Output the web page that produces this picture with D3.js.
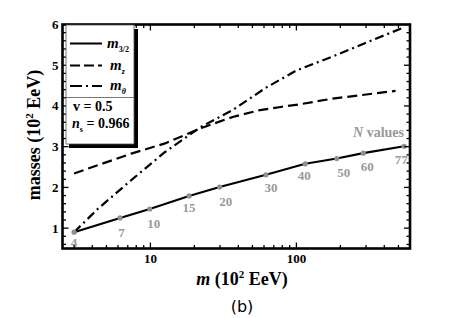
<!DOCTYPE html>
<html><head><meta charset="utf-8">
<script src="https://cdn.jsdelivr.net/npm/d3@7/dist/d3.min.js"></script>
<style>body{margin:0;background:#fff}svg{display:block}</style>
</head><body>
<svg id="c" width="457" height="318"></svg>
<script>
// ---- data ----
const nLabels = ["4","7","10","15","20","30","40","50","60","77"];
const m32_m = [3.0, 6.2, 9.9, 18.4, 29.8, 61.9, 115, 189, 287, 547];
const m32_v = [0.9, 1.25, 1.47, 1.79, 2.01, 2.31, 2.58, 2.71, 2.84, 3.01];
const mz_m = [3, 4.4, 7.4, 12.6, 22.4, 36.6, 55, 80, 105, 177, 478];
const mz_v = [2.34, 2.55, 2.83, 3.08, 3.46, 3.73, 3.89, 3.98, 4.04, 4.18, 4.37];
const mth_m = [3, 4.4, 7.4, 12.6, 22.3, 36.6, 62, 100, 197, 333, 547];
const mth_v = [0.9, 1.485, 2.18, 2.87, 3.49, 3.9, 4.45, 4.87, 5.28, 5.62, 5.93];
const xMajor = [10, 100];
const xTickLabels = ["10", "100"];
const xMinor = [3,4,5,6,7,8,9,20,30,40,50,60,70,80,90,200,300,400,500,600];
const yMajor = [1,2,3,4,5,6];
const yTickLabels = ["1","2","3","4","5","6"];
const yMinor = d3.range(0.6, 6.0, 0.2).filter(v => Math.abs(v - Math.round(v)) > 0.05);
const legendNames = [["m","3/2"],["m","z"],["m","θ"]];

// ---- layout ----
const L = 62.5, R = 410, T = 24.5, B = 248.5;
const x = d3.scaleLog().domain([2.5, 600]).range([L, R]);
const y = d3.scaleLinear().domain([0.5, 6]).range([B, T]);
const svg = d3.select("#c");
const serif = "'Liberation Serif', 'Times New Roman', serif";

const line = d3.line().x(d => x(d[0])).y(d => y(d[1]));
const s32 = m32_m.map((m,i)=>[m, m32_v[i]]);
const sz = mz_m.map((m,i)=>[m, mz_v[i]]);
const sth = mth_m.map((m,i)=>[m, mth_v[i]]);

svg.append("path").attr("d", line(sz)).attr("fill","none").attr("stroke","#000")
  .attr("stroke-width",2.2).attr("stroke-dasharray","10,5");
svg.append("path").attr("d", line(sth)).attr("fill","none").attr("stroke","#000")
  .attr("stroke-width",2.2).attr("stroke-dasharray","9,4,2,4");
svg.append("path").attr("d", line(s32)).attr("fill","none").attr("stroke","#000")
  .attr("stroke-width",2.2);
svg.selectAll("circle.pt").data(s32).enter().append("circle")
  .attr("cx", d=>x(d[0])).attr("cy", d=>y(d[1])).attr("r",2.6).attr("fill","#8f8f8f");

const offs = [[0,15],[1.5,19],[4,19],[0,16],[6,19],[5,17],[-1,16],[7,19],[4,18],[-3,18]];
svg.selectAll("text.nl").data(s32).enter().append("text")
  .attr("x",(d,i)=>x(d[0])+offs[i][0]).attr("y",(d,i)=>y(d[1])+offs[i][1])
  .attr("text-anchor","middle").attr("font-family",serif).attr("font-weight","bold")
  .attr("font-size",13).attr("fill","#999").text((d,i)=>nLabels[i]);

const nv = svg.append("text").attr("x",404).attr("y",136.5).attr("text-anchor","end")
  .attr("font-family",serif).attr("font-weight","bold").attr("font-size",14).attr("fill","#999");
nv.append("tspan").attr("font-style","italic").text("N");
nv.append("tspan").text(" values");

// ---- ticks ----
const tk = svg.append("g").attr("stroke","#000").attr("stroke-width",1.3);
function vt(vals, len){
  vals.forEach(v=>{
    const px = x(v);
    tk.append("line").attr("x1",px).attr("x2",px).attr("y1",B).attr("y2",B-len);
    tk.append("line").attr("x1",px).attr("x2",px).attr("y1",T).attr("y2",T+len);
  });
}
function ht(vals, len){
  vals.forEach(v=>{
    const py = y(v);
    tk.append("line").attr("y1",py).attr("y2",py).attr("x1",L).attr("x2",L+len);
    tk.append("line").attr("y1",py).attr("y2",py).attr("x1",R).attr("x2",R-len);
  });
}
vt(xMajor, 6); vt(xMinor, 3.5); ht(yMajor, 6); ht(yMinor, 3.5);

svg.append("rect").attr("x",L).attr("y",T).attr("width",R-L).attr("height",B-T)
  .attr("fill","none").attr("stroke","#000").attr("stroke-width",2.6);

svg.selectAll("text.xt").data(xMajor).enter().append("text")
  .attr("x",d=>x(d)).attr("y",263).attr("text-anchor","middle")
  .attr("font-family",serif).attr("font-weight","bold").attr("font-size",13)
  .text((d,i)=>xTickLabels[i]);
svg.selectAll("text.yt").data(yMajor).enter().append("text")
  .attr("x",58.5).attr("y",d=>y(d)+4.5).attr("text-anchor","end")
  .attr("font-family",serif).attr("font-weight","bold").attr("font-size",13)
  .text((d,i)=>yTickLabels[i]);

// ---- axis titles ----
const xt = svg.append("text").attr("x",242).attr("y",285).attr("text-anchor","middle")
  .attr("font-family",serif).attr("font-weight","bold").attr("font-size",18);
xt.append("tspan").attr("font-style","italic").text("m");
xt.append("tspan").text(" (10");
xt.append("tspan").attr("font-size",11).attr("dy",-7).text("2");
xt.append("tspan").attr("dy",7).text(" EeV)");

const yt = svg.append("text").attr("transform","translate(40,135) rotate(-90)")
  .attr("text-anchor","middle").attr("font-family",serif).attr("font-weight","bold").attr("font-size",18);
yt.append("tspan").text("masses (10");
yt.append("tspan").attr("font-size",11).attr("dy",-7).text("2");
yt.append("tspan").attr("dy",7).text(" EeV)");

svg.append("text").attr("x",242).attr("y",312).attr("text-anchor","middle")
  .attr("font-family","'DejaVu Sans', sans-serif").attr("font-size",16).text("(b)");

// ---- legend ----
const lg = svg.append("g");
lg.append("rect").attr("x",134).attr("y",29).attr("width",4).attr("height",119).attr("fill","#000");
lg.append("rect").attr("x",69).attr("y",144).attr("width",69).attr("height",4).attr("fill","#000");
lg.append("rect").attr("x",66).attr("y",25).attr("width",68).attr("height",119)
  .attr("fill","#fff").attr("stroke","#555").attr("stroke-width",0.8);
lg.append("line").attr("x1",66).attr("x2",134).attr("y1",97.5).attr("y2",97.5)
  .attr("stroke","#555").attr("stroke-width",0.8);
const dashes = [null, "10,4", "12,4,2,4"];
const ly = [43.5, 65.5, 86];
legendNames.forEach((nm,i)=>{
  const l = lg.append("line").attr("x1",70).attr("x2",102).attr("y1",ly[i]).attr("y2",ly[i])
    .attr("stroke","#000").attr("stroke-width",2);
  if (dashes[i]) l.attr("stroke-dasharray",dashes[i]);
  const t = lg.append("text").attr("x", i===0?107:110).attr("y",ly[i]+4)
    .attr("font-family",serif).attr("font-weight","bold").attr("font-size",15);
  t.append("tspan").attr("font-style","italic").text(nm[0]);
  t.append("tspan").attr("font-size",8).attr("dy",4).attr("font-style", i===0?"normal":"italic").text(nm[1]);
});
lg.append("text").attr("x",73).attr("y",111).attr("font-family",serif).attr("font-weight","bold")
  .attr("font-size",14).text("v = 0.5");
const ns = lg.append("text").attr("x",72).attr("y",127.5).attr("font-family",serif).attr("font-weight","bold")
  .attr("font-size",14);
ns.append("tspan").attr("font-style","italic").text("n");
ns.append("tspan").attr("font-size",8).attr("dy",4).text("s");
ns.append("tspan").attr("dy",-4).text(" = 0.966");
</script>
</body></html>
